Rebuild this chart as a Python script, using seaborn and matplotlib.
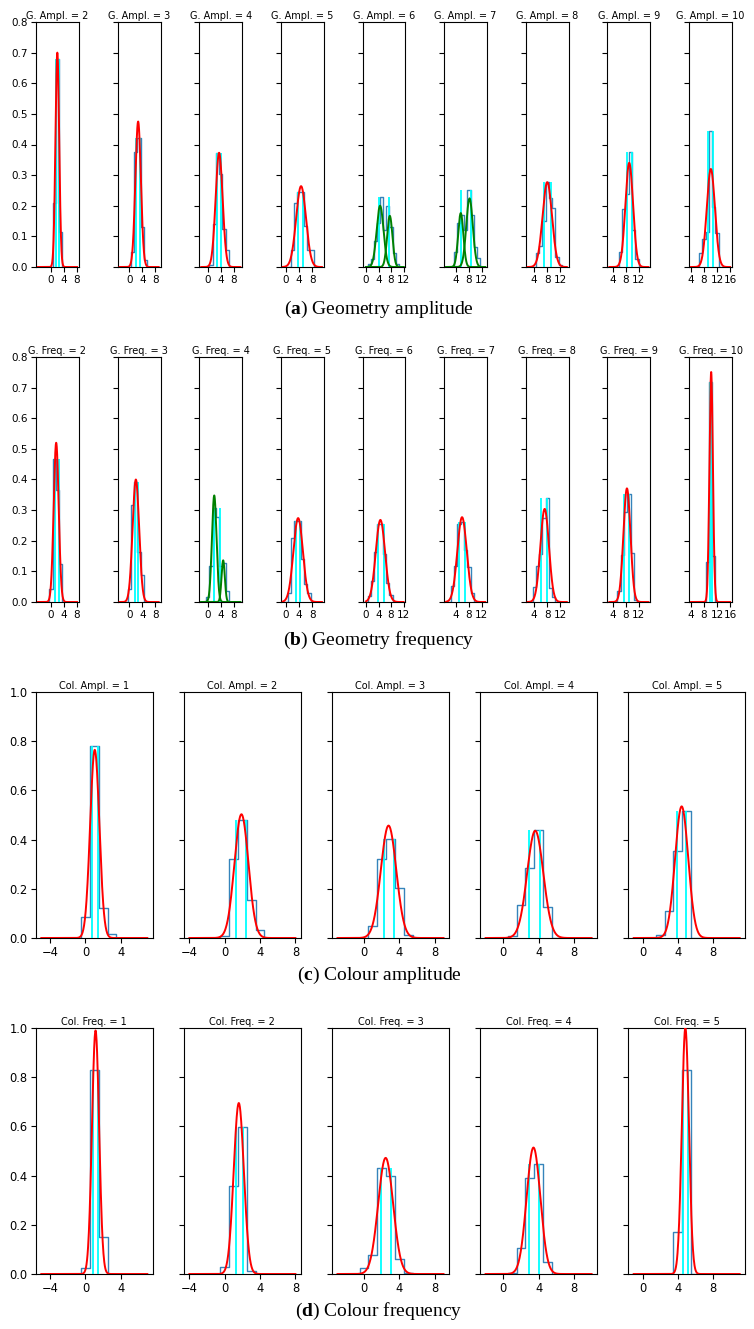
import numpy as np
import pandas as pd
import seaborn as sns
import matplotlib.pyplot as plt
from matplotlib.ticker import MultipleLocator

plt.rcParams['mathtext.fontset'] = 'custom'
plt.rcParams['mathtext.bf'] = 'Liberation Serif:bold'
plt.rcParams['mathtext.rm'] = 'Liberation Serif'

# ---- (a) geometry amplitude ----
ga_levels = [2, 3, 4, 5, 6, 7, 8, 9, 10]
ga_centers = [[1, 2, 3], [1, 2, 3, 4, 5], [1, 2, 3, 4, 5, 6], [2, 3, 4, 5, 6, 7, 8],
              [1, 2, 3, 4, 5, 6, 7, 8, 9, 10], [4, 5, 6, 7, 8, 9, 10, 11],
              [5, 6, 7, 8, 9, 10, 11, 12], [6.5, 7.5, 8.5, 9.5, 10.5, 11.5], [7, 8, 9, 10, 11, 12]]
ga_heights = [[0.21, 0.68, 0.115], [0.05, 0.376, 0.422, 0.129, 0.022],
              [0.007, 0.14, 0.373, 0.305, 0.125, 0.056],
              [0.055, 0.21, 0.245, 0.245, 0.135, 0.055, 0.055],
              [0.01, 0.025, 0.085, 0.145, 0.23, 0.12, 0.2, 0.13, 0.045, 0.01],
              [0.05, 0.145, 0.17, 0.12, 0.25, 0.17, 0.065, 0.03],
              [0.045, 0.07, 0.15, 0.277, 0.226, 0.193, 0.034, 0.005],
              [0.05, 0.19, 0.24, 0.375, 0.12, 0.025],
              [0.045, 0.09, 0.115, 0.445, 0.195, 0.11]]
# fitted gaussians: (mean, sigma, peak)
ga_fits = [[(1.95, 0.57, 0.70)], [(2.7, 0.84, 0.475)], [(3.5, 1.07, 0.373)], [(4.6, 1.51, 0.264)],
           [(4.5, 1.1, 0.20), (7.6, 0.85, 0.167)], [(5.5, 0.8, 0.176), (8.2, 1.0, 0.224)],
           [(8.0, 1.44, 0.277)], [(9.1, 1.17, 0.34)], [(10.1, 1.25, 0.32)]]
ga_cyan = [[1.6, 2.5], [2.0, 3.2], [3.0, 4.1], [3.8, 5.3], [4.3, 7.4], [5.7, 8.6],
           [7.0, 9.1], [8.4, 9.85], [9.2, 10.9]]

# ---- (b) geometry frequency ----
gf_levels = [2, 3, 4, 5, 6, 7, 8, 9, 10]
gf_centers = [[0, 1, 2, 3], [0, 1, 2, 3, 4], [0, 1, 2, 3, 4, 5, 6], [1, 2, 3, 4, 5, 6, 7],
              [1, 2, 3, 4, 5, 6, 7, 8], [3, 4, 5, 6, 7, 8, 9], [4, 5, 6, 7, 8, 9, 10],
              [6, 7, 8, 9, 10, 11], [9, 10, 11]]
gf_heights = [[0.042, 0.466, 0.366, 0.125], [0.042, 0.317, 0.393, 0.163, 0.087],
              [0.016, 0.118, 0.306, 0.279, 0.117, 0.127, 0.037],
              [0.03, 0.21, 0.265, 0.265, 0.14, 0.06, 0.03],
              [0.02, 0.067, 0.162, 0.254, 0.254, 0.157, 0.062, 0.024],
              [0.053, 0.118, 0.255, 0.26, 0.17, 0.115, 0.029],
              [0.05, 0.116, 0.157, 0.274, 0.341, 0.046, 0.016],
              [0.035, 0.152, 0.293, 0.352, 0.16, 0.008],
              [0.13, 0.72, 0.15]]
gf_fits = [[(1.6, 0.767, 0.52)], [(2.0, 1.0, 0.40)], [(2.0, 0.7, 0.348), (4.75, 0.5, 0.136)],
           [(3.7, 1.456, 0.274)], [(4.6, 1.49, 0.268)], [(5.9, 1.44, 0.277)],
           [(7.2, 1.31, 0.304)], [(8.4, 1.075, 0.371)], [(10.2, 0.531, 0.751)]]
gf_cyan = [[1.2, 2.5], [1.6, 2.6], [1.8, 3.7], [3.0, 4.4], [3.8, 5.6], [5.0, 6.8],
           [6.2, 8.0], [7.65, 9.1], [9.7, 10.6]]

# ---- (c) colour amplitude ----
ca_levels = [1, 2, 3, 4, 5]
ca_centers = [[0, 1, 2, 3], [0, 1, 2, 3, 4], [1, 2, 3, 4, 5], [1, 2, 3, 4, 5], [2, 3, 4, 5]]
ca_heights = [[0.085, 0.78, 0.12, 0.015], [0.007, 0.323, 0.48, 0.154, 0.031],
              [0.049, 0.322, 0.404, 0.205, 0.011], [0.007, 0.136, 0.283, 0.4375, 0.128],
              [0.012, 0.111, 0.352, 0.518]]
ca_fits = [[(1.05, 0.52, 0.765)], [(1.89, 0.79, 0.503)], [(2.78, 0.873, 0.457)],
           [(3.62, 0.915, 0.436)], [(4.43, 0.746, 0.535)]]
ca_cyan = [[0.69, 1.46], [1.28, 2.38], [2.21, 3.43], [2.97, 4.18], [3.86, 4.96]]

# ---- (d) colour frequency ----
cf_levels = [1, 2, 3, 4, 5]
cf_centers = [[0, 1, 2], [0, 1, 2, 3], [0, 1, 2, 3, 4, 5], [1, 2, 3, 4, 5], [4, 5]]
cf_heights = [[0.023, 0.829, 0.149], [0.03, 0.357, 0.598, 0.0136],
              [0.023, 0.076, 0.429, 0.398, 0.062, 0.005], [0.005, 0.106, 0.389, 0.446, 0.047],
              [0.172, 0.829]]
cf_fits = [[(1.14, 0.403, 0.99)], [(1.59, 0.574, 0.695)], [(2.45, 0.845, 0.472)],
           [(3.42, 0.776, 0.514)], [(4.85, 0.4, 1.0)]]
cf_cyan = [[0.84, 1.41], [1.25, 2.05], [1.89, 3.02], [2.89, 4.03], [4.62, 5.19]]


def draw_row(fig, box, wspace, prefix, levels, centers, heights, fits, cyan,
             ytop, ystep, title_fs, tick_fs, nonneg_ticks):
    left, right, bottom, top = box
    gs = fig.add_gridspec(1, len(levels), left=left, right=right, bottom=bottom,
                          top=top, wspace=wspace)
    for i, k in enumerate(levels):
        ax = fig.add_subplot(gs[0, i])
        df = pd.DataFrame({'value': np.array(centers[i], dtype=float),
                           'density': np.array(heights[i], dtype=float)})
        c = df['value'].to_numpy()
        h = df['density'].to_numpy()
        edges = np.arange(c.min() - 1.5, c.max() + 1.6, 1.0).tolist()
        sns.histplot(data=df, x='value', weights='density', bins=edges, element='step',
                     fill=False, color='#1f77b4', linewidth=1.0, alpha=0.9, ax=ax)
        ax.vlines(cyan[i], 0, h.max(), color='cyan', linewidth=1.3, zorder=3)
        xs = np.linspace(k - 6, k + 6, 400)
        col = 'red' if len(fits[i]) == 1 else 'green'
        for mu, sd, pk in fits[i]:
            ax.plot(xs, pk * np.exp(-0.5 * ((xs - mu) / sd) ** 2),
                    color=col, linewidth=1.4, zorder=4)
        ax.set(xlabel='', ylabel='')
        ax.set_ylim(0, ytop)
        ax.yaxis.set_major_locator(MultipleLocator(ystep))
        ax.xaxis.set_major_locator(MultipleLocator(4))
        if nonneg_ticks:
            lo, hi = ax.get_xlim()
            ax.set_xticks([t for t in np.arange(0, hi + 0.01, 4) if t >= lo])
            ax.set_xlim(lo, hi)
        ax.tick_params(labelsize=tick_fs, length=3.5, width=0.8, pad=2.5)
        if i > 0:
            ax.tick_params(labelleft=False)
        ax.set_title('%s = %d' % (prefix, k), fontsize=title_fs, pad=2.5)
        for sp in ax.spines.values():
            sp.set_linewidth(0.8)


fig = plt.figure(figsize=(7.54, 13.29), dpi=100)
H = 1329.0
W = 754.0

draw_row(fig, (36 / W, 732 / W, 1 - 267 / H, 1 - 22 / H), 0.9, 'G. Ampl.',
         ga_levels, ga_centers, ga_heights, ga_fits, ga_cyan, 0.8, 0.1, 7, 7.5, True)
draw_row(fig, (36 / W, 732 / W, 1 - 602 / H, 1 - 357 / H), 0.9, 'G. Freq.',
         gf_levels, gf_centers, gf_heights, gf_fits, gf_cyan, 0.8, 0.1, 7, 7.5, True)
draw_row(fig, (36 / W, 745 / W, 1 - 938 / H, 1 - 692 / H), 0.27, 'Col. Ampl.',
         ca_levels, ca_centers, ca_heights, ca_fits, ca_cyan, 1.0, 0.2, 7, 8.3, False)
draw_row(fig, (36 / W, 745 / W, 1 - 1274 / H, 1 - 1028 / H), 0.27, 'Col. Freq.',
         cf_levels, cf_centers, cf_heights, cf_fits, cf_cyan, 1.0, 0.2, 7, 8.3, False)

captions = [(r'($\mathbf{a}$) Geometry amplitude', 314),
            (r'($\mathbf{b}$) Geometry frequency', 645),
            (r'($\mathbf{c}$) Colour amplitude', 980),
            (r'($\mathbf{d}$) Colour frequency', 1316)]
for txt, ypix in captions:
    fig.text(379 / W, 1 - ypix / H, txt, ha='center', va='baseline',
             fontsize=14, family='Liberation Serif')

fig.savefig('out.png', dpi=100)
